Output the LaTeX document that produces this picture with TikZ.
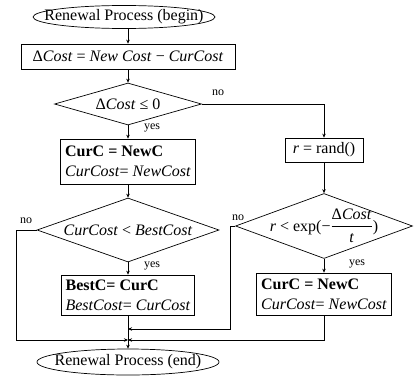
\documentclass[tikz,border=0pt]{standalone}
\usepackage{amsmath}
\usepackage{fontspec}
\setmainfont{Liberation Serif}
\usetikzlibrary{arrows.meta,shapes.geometric}

\begin{document}
\begin{tikzpicture}[
  x=1pt,y=-1pt,
  line width=0.7pt,
  every node/.style={font=\fontsize{16}{19}\selectfont,inner sep=0pt},
  term/.style={draw,ellipse,minimum width=182pt,minimum height=23pt},
  box/.style={draw,rectangle},
  cond/.style={draw,diamond},
  lbl/.style={font=\fontsize{12}{14}\selectfont},
  arr/.style={-{Stealth[length=4pt,width=3.5pt]}}
]
\useasboundingbox (0,0) rectangle (414,388);
% main column
\node[term] (begin) at (124,17) {};
\node (begintxt) at (begin) {Renewal Process (begin)};
\node[box,minimum width=214pt,minimum height=25pt] (delta) at (128,56.5) {Δ\textit{Cost} = \textit{New Cost} − \textit{CurCost}};
\node[cond,minimum width=147pt,minimum height=42pt] (check) at (128,104) {};
\node (checktxt) at (check) {Δ\textit{Cost} ≤ 0};
\node[box,minimum width=135pt,minimum height=45pt,align=left] (accept) at (128,161.5) {\textbf{CurC = NewC}\\[1pt]\textit{CurCost}= \textit{NewCost}};
\node[cond,minimum width=182pt,minimum height=64pt] (better) at (128,230) {};
\node (bettertxt) at (better) {\textit{CurCost} < \textit{BestCost}};
\node[box,minimum width=133pt,minimum height=40pt,align=left] (keep) at (128,295) {\textbf{BestC= CurC}\\[1pt]\textit{BestCost}= \textit{CurCost}};
\node[term,minimum height=26pt] (end) at (128,362) {};
\node (endtxt) at (end) {Renewal Process (end)};
% right column
\node[box,minimum width=78pt,minimum height=24pt] (rand) at (324,150) {\textit{r} = rand()};
\node[cond,minimum width=177pt,minimum height=65pt] (metro) at (324,226) {};
\node (metrotxt) at (metro) {\textit{r} < exp(−$\dfrac{\text{Δ\textit{Cost}}}{\text{\textit{t}}}$)};
\node[box,minimum width=135pt,minimum height=42pt,align=left] (accept2) at (324,294) {\textbf{CurC = NewC}\\[1pt]\textit{CurCost}= \textit{NewCost}};
% corners
\coordinate (m1) at (128,329);
\coordinate (m2) at (128,340);
\coordinate (nobest) at (16,230);
\coordinate (nometro) at (230,226);
% labels
\node[lbl] (no1) at (218,93) {no};
\node[lbl] (yes1) at (152,128) {yes};
\node[lbl] (no2) at (26,221) {no};
\node[lbl] (yes2) at (152,266) {yes};
\node[lbl] (no3) at (238,218) {no};
\node[lbl] (yes3) at (357,264) {yes};
% connectors
\draw[arr] (begin.south -| delta.north) -- (delta);
\draw[arr] (delta) -- (check);
\draw[arr] (check) -- (accept);
\draw[arr] (accept) -- (better);
\draw[arr] (better) -- (keep);
\draw[arr] (keep) -- (end);
\draw[arr] (check.east) -| (rand);
\draw[arr] (rand) -- (metro);
\draw[arr] (metro) -- (accept2);
\draw[arr] (better.west) -- (nobest) |- (m2);
\draw[arr] (accept2) |- (m2);
\draw[arr] (metro.west) -- (nometro) |- (m1);
\end{tikzpicture}
\end{document}
